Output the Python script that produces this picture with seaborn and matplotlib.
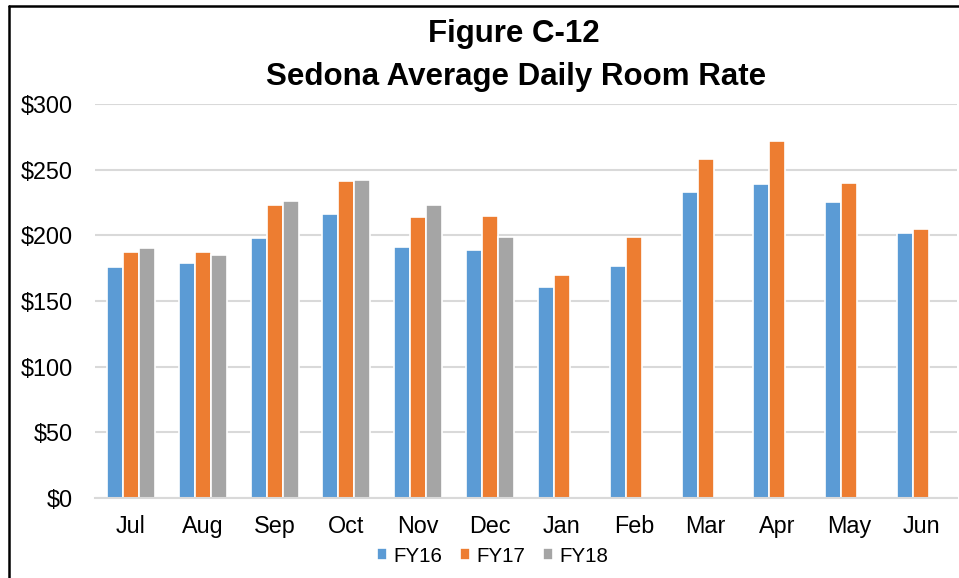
import matplotlib
matplotlib.use("Agg")
import matplotlib.pyplot as plt
from matplotlib.lines import Line2D
import numpy as np
import pandas as pd
import seaborn as sns

months = ["Jul", "Aug", "Sep", "Oct", "Nov", "Dec", "Jan", "Feb", "Mar", "Apr", "May", "Jun"]
fy16 = [176, 179, 198, 216, 191, 189, 161, 177, 233, 239, 225, 202]
fy17 = [187, 187, 223, 241, 214, 215, 170, 199, 258, 272, 240, 204.5]
fy18 = [190, 185, 226, 242, 223, 198.5, np.nan, np.nan, np.nan, np.nan, np.nan, np.nan]
series_names = ["FY16", "FY17", "FY18"]
series_colors = ["#5B9BD5", "#ED7D31", "#A5A5A5"]
y_ticks = [0, 50, 100, 150, 200, 250, 300]
y_tick_labels = ["$0", "$50", "$100", "$150", "$200", "$250", "$300"]

frames = []
for name, vals in zip(series_names, [fy16, fy17, fy18]):
    frames.append(pd.DataFrame({"Month": months, "Rate": vals, "Year": name}))
df = pd.concat(frames, ignore_index=True)

sns.set_theme(style="white")
plt.rcParams["font.family"] = ["Liberation Sans", "DejaVu Sans"]
plt.rcParams["text.color"] = "black"

fig = plt.figure(figsize=(9.59, 5.78), dpi=100)
ax = fig.add_axes([95 / 959, 1 - 498 / 578, (957 - 95) / 959, (498 - 104) / 578])

sns.barplot(data=df, x="Month", y="Rate", hue="Year", order=months,
            hue_order=series_names, palette=series_colors, width=0.667,
            edgecolor="white", linewidth=1.2, saturation=1, ax=ax, legend=True)

ax.set_ylim(0, 300)
ax.set_xlim(-0.5, 11.5)
ax.set_yticks(y_ticks)
ax.set_yticklabels(y_tick_labels)
ax.yaxis.grid(True, color="#D9D9D9", linewidth=1.5)
ax.set_axisbelow(True)
for side in ["top", "right", "left"]:
    ax.spines[side].set_visible(False)
ax.spines["bottom"].set_color("#D9D9D9")
ax.spines["bottom"].set_linewidth(1.5)
ax.tick_params(axis="both", length=0, labelsize=16.8, colors="black")
ax.tick_params(axis="y", pad=16)
ax.tick_params(axis="x", pad=12.5)
ax.set_xlabel("")
ax.set_ylabel("")

handles, labels = ax.get_legend_handles_labels()
ax.legend_.remove()
fig.legend(handles, labels, loc="center", bbox_to_anchor=(492.5 / 959, 1 - 556 / 578),
           ncol=3, frameon=False, fontsize=14.8, handlelength=0.5, handleheight=0.5,
           handletextpad=0.3, columnspacing=0.85, borderaxespad=0, borderpad=0)

fig.text(514 / 959, 1 - 41.7 / 578, "Figure C-12", ha="center", va="baseline",
         fontsize=22.5, fontweight="bold", color="black")
fig.text(516 / 959, 1 - 85.5 / 578, "Sedona Average Daily Room Rate", ha="center",
         va="baseline", fontsize=22.5, fontweight="bold", color="black")

# frame around the chart: left and top edges
fig.add_artist(Line2D([8.5 / 959, 8.5 / 959], [0, 1 - 5.5 / 578],
                      transform=fig.transFigure, color="black", linewidth=1.8))
fig.add_artist(Line2D([8.5 / 959, 1.0], [1 - 5.5 / 578, 1 - 5.5 / 578],
                      transform=fig.transFigure, color="black", linewidth=1.8))

fig.savefig("out.png", dpi=100)
